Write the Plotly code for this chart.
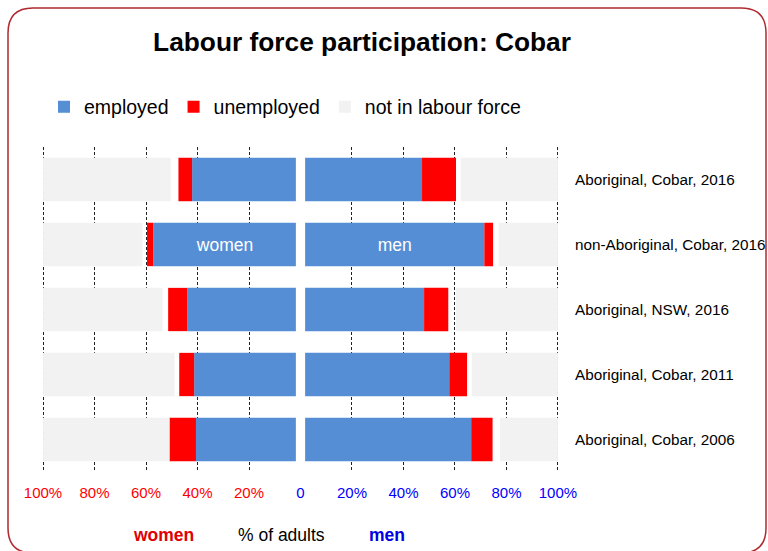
import plotly.graph_objects as go

# ---------------- data (percent of adults) ----------------
categories = ["Aboriginal, Cobar, 2016", "non-Aboriginal, Cobar, 2016",
              "Aboriginal, NSW, 2016", "Aboriginal, Cobar, 2011",
              "Aboriginal, Cobar, 2006"]
women_employed = [40.3, 55.4, 42.2, 39.5, 38.8]
women_unemployed = [5.3, 2.4, 7.4, 5.8, 10.4]
women_nilf = [49.6, 38.6, 46.4, 51.1, 49.2]
men_employed = [45.4, 69.6, 46.2, 56.0, 64.5]
men_unemployed = [13.2, 3.4, 9.4, 6.9, 8.3]
men_nilf = [37.8, 23.0, 39.7, 33.5, 22.5]
tick_vals = [0, 20, 40, 60, 80, 100]
tick_text = ["0", "20%", "40%", "60%", "80%", "100%"]

# ---------------- style ----------------
FONT = "Liberation Sans, Arial, sans-serif"
C_EMP = "#558ED5"
C_UNE = "#FF0000"
C_NIL = "#F2F2F2"
GAP = 1.8  # visual gap between the two halves (axis units)

W, H = 768, 551
ML, MR, MT, MB = 42, 209, 147, 79
PW, PH = W - ML - MR, H - MT - MB


def px(xp):
    return (xp - ML) / PW


def py(yp):
    return (H - MB - yp) / PH


fig = go.Figure()

label_text = ["", "women", "", "", ""]
label_text_m = ["", "men", "", "", ""]

# women (left, xaxis)
fig.add_trace(go.Bar(y=categories, x=women_employed, base=[GAP] * len(categories),
                     orientation="h", marker=dict(color=C_EMP, line=dict(width=0)),
                     name="employed", showlegend=False, xaxis="x", yaxis="y",
                     text=label_text, textposition="inside", insidetextanchor="middle",
                     textangle=0, constraintext="none",
                     textfont=dict(color="white", size=17.5, family=FONT)))
fig.add_trace(go.Bar(y=categories, x=women_unemployed,
                     base=[GAP + e for e in women_employed],
                     orientation="h", marker=dict(color=C_UNE, line=dict(width=0)),
                     name="unemployed", showlegend=False, xaxis="x", yaxis="y"))
fig.add_trace(go.Bar(y=categories, x=women_nilf, base=[100 - n for n in women_nilf],
                     orientation="h", marker=dict(color=C_NIL, line=dict(width=0)),
                     name="not in labour force", showlegend=False, xaxis="x", yaxis="y"))

# men (right, xaxis2)
fig.add_trace(go.Bar(y=categories, x=men_employed, base=[GAP] * len(categories),
                     orientation="h", marker=dict(color=C_EMP, line=dict(width=0)),
                     name="employed", legendrank=1, xaxis="x2", yaxis="y",
                     text=label_text_m, textposition="inside", insidetextanchor="middle",
                     textangle=0, constraintext="none",
                     textfont=dict(color="white", size=17.5, family=FONT)))
fig.add_trace(go.Bar(y=categories, x=men_unemployed,
                     base=[GAP + e for e in men_employed],
                     orientation="h", marker=dict(color=C_UNE, line=dict(width=0)),
                     name="unemployed", legendrank=2, xaxis="x2", yaxis="y"))
fig.add_trace(go.Bar(y=categories, x=men_nilf, base=[100 - n for n in men_nilf],
                     orientation="h", marker=dict(color=C_NIL, line=dict(width=0)),
                     name="not in labour force", legendrank=3, xaxis="x2", yaxis="y"))

grid = dict(showgrid=True, gridcolor="#222222", gridwidth=1, griddash="3px,2px",
            zeroline=False, showline=False, ticks="", fixedrange=True,
            ticklabelstandoff=10)

annotations = []
for c in categories:
    annotations.append(dict(x=px(573), xref="paper", y=c, yref="y", text=c,
                            showarrow=False, xanchor="left", yanchor="middle",
                            font=dict(family=FONT, size=15.3, color="#000")))
annotations += [
    dict(x=px(163), y=py(535), xref="paper", yref="paper", text="<b>women</b>",
         showarrow=False, xanchor="center", yanchor="middle",
         font=dict(family=FONT, size=17.5, color="#E00000")),
    dict(x=px(281), y=py(535), xref="paper", yref="paper", text="% of adults",
         showarrow=False, xanchor="center", yanchor="middle",
         font=dict(family=FONT, size=17.5, color="#000")),
    dict(x=px(387), y=py(535), xref="paper", yref="paper", text="<b>men</b>",
         showarrow=False, xanchor="center", yanchor="middle",
         font=dict(family=FONT, size=17.5, color="#0000E0")),
]

# rounded border
x0, y0, x1, y1 = px(8), py(8), px(766), py(553)
rx = 25 / PW
ry = 25 / PH
path = (f"M {x0+rx},{y0} L {x1-rx},{y0} Q {x1},{y0} {x1},{y0-ry} "
        f"L {x1},{y1+ry} Q {x1},{y1} {x1-rx},{y1} L {x0+rx},{y1} "
        f"Q {x0},{y1} {x0},{y1+ry} L {x0},{y0-ry} Q {x0},{y0} {x0+rx},{y0} Z")

fig.update_layout(
    width=W, height=H,
    margin=dict(l=ML, r=MR, t=MT, b=MB, pad=0),
    paper_bgcolor="white", plot_bgcolor="white",
    barmode="overlay", bargap=0.334,
    font=dict(family=FONT, size=15, color="#000"),
    title=dict(text="<b>Labour force participation: Cobar</b>", x=362 / W, xanchor="center",
               y=1 - 42 / H, yanchor="middle", xref="container", yref="container",
               font=dict(family=FONT, size=26.3, color="#000")),
    xaxis=dict(domain=[0, 0.5], range=[100.4, 0], tickvals=tick_vals[1:], ticktext=tick_text[1:],
               tickfont=dict(family=FONT, size=15, color="#FF0000"), **grid),
    xaxis2=dict(domain=[0.5, 1], range=[0, 100.4], tickvals=tick_vals, ticktext=tick_text,
                tickfont=dict(family=FONT, size=15, color="#0000FF"), anchor="y", **grid),
    yaxis=dict(categoryorder="array", categoryarray=categories, autorange="reversed",
               showticklabels=False, showgrid=False, zeroline=False, ticks="", fixedrange=True),
    legend=dict(orientation="h", x=px(44), xanchor="left", y=py(107), yanchor="middle",
                font=dict(family=FONT, size=19.5, color="#000"), bgcolor="rgba(0,0,0,0)",
                traceorder="normal"),
    annotations=annotations,
    shapes=[dict(type="path", path=path, xref="paper", yref="paper",
                 line=dict(color="#B02A30", width=1.5), layer="above")],
)

fig.write_html("out.html", config={"displayModeBar": False},
               post_script="document.body.style.margin='0px';")
